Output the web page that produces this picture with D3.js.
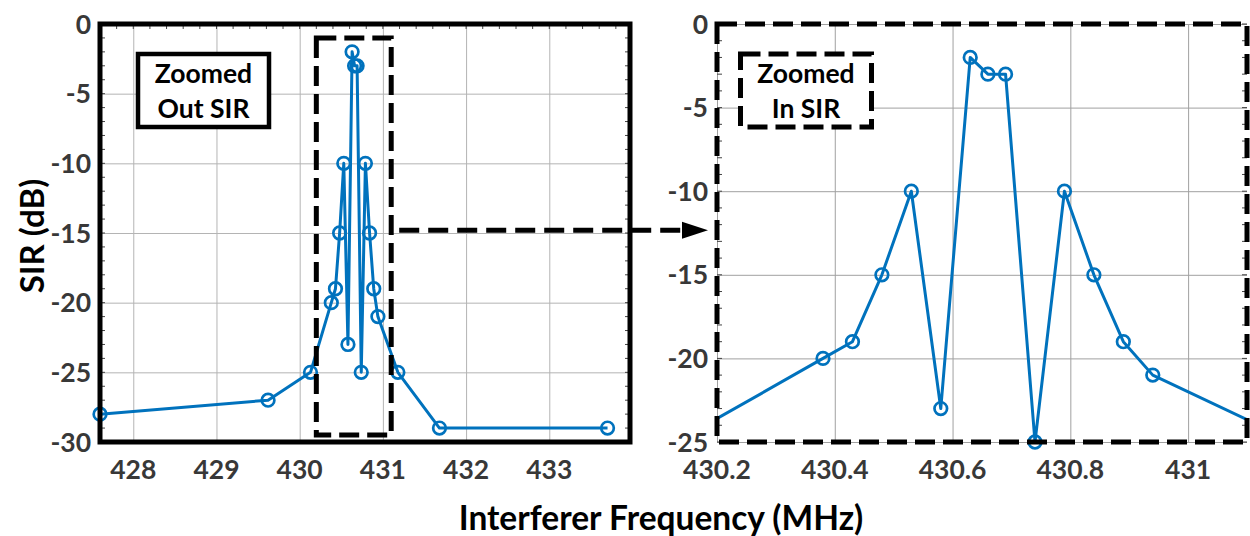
<!DOCTYPE html>
<html>
<head>
<meta charset="utf-8">
<script src="https://cdn.jsdelivr.net/npm/d3@7"></script>
<style>
  html, body { margin: 0; padding: 0; background: #fff; }
  svg { display: block; font-family: Lato, "Open Sans", sans-serif; }
</style>
</head>
<body>
<svg id="chart" width="1250" height="536"></svg>
<script>
// Measured SIR versus interferer frequency
const freqMHz = [427.6, 429.62, 430.13, 430.38, 430.43, 430.48, 430.53, 430.58, 430.63, 430.66,
                 430.69, 430.74, 430.79, 430.84, 430.89, 430.94, 431.18, 431.68, 433.7];
const sirDb   = [-28, -27, -25, -20, -19, -15, -10, -23, -2, -3,
                 -3, -25, -10, -15, -19, -21, -25, -29, -29];

// Axis ranges and tick labels
const outerXDomain = [427.6, 433.97];
const outerYDomain = [-30, 0];
const outerXTicks  = [428, 429, 430, 431, 432, 433];
const outerYTicks  = [0, -5, -10, -15, -20, -25, -30];

const innerXDomain = [430.2, 431.1];
const innerYDomain = [-25, 0];
const innerXTicks  = [430.2, 430.4, 430.6, 430.8, 431];
const innerYTicks  = [0, -5, -10, -15, -20, -25];

// SIR span of the highlighted region in the overview
const zoomRectSir = [-1, -29.5];

const labels = {
  y: "SIR (dB)",
  x: "Interferer Frequency (MHz)",
  outer: ["Zoomed", "Out SIR"],
  inner: ["Zoomed", "In SIR"]
};

const BLUE = "#0072BD";
const svg = d3.select("#chart");
const data = freqMHz.map((f, i) => ({ f, s: sirDb[i] }));

function panel(cfg) {
  const { x0, x1, y0, y1, xDomain, yDomain, xTicks, yTicks, fmt, id, dashed, gridColor } = cfg;
  const x = d3.scaleLinear().domain(xDomain).range([x0, x1]);
  const y = d3.scaleLinear().domain(yDomain).range([y1, y0]);
  const g = svg.append("g");

  svg.append("clipPath").attr("id", id)
    .append("rect").attr("x", x0).attr("y", y0).attr("width", x1 - x0).attr("height", y1 - y0);

  // grid
  g.append("g").attr("transform", `translate(0,${y1})`)
    .call(d3.axisBottom(x).tickValues(xTicks).tickSize(-(y1 - y0)).tickFormat(""))
    .call(a => a.select(".domain").remove())
    .call(a => a.selectAll("line").attr("stroke", gridColor).attr("stroke-width", 1));
  g.append("g").attr("transform", `translate(${x0},0)`)
    .call(d3.axisLeft(y).tickValues(yTicks).tickSize(-(x1 - x0)).tickFormat(""))
    .call(a => a.select(".domain").remove())
    .call(a => a.selectAll("line").attr("stroke", gridColor).attr("stroke-width", 1));

  // minor ticks
  const yMinor = d3.range(yDomain[0], yDomain[1] + 0.5, 1);
  const minor = g.append("g").attr("stroke", "#444").attr("stroke-width", 1);
  minor.selectAll(".ml").data(yMinor).join("line")
    .attr("x1", x0).attr("x2", x0 + 5).attr("y1", d => y(d)).attr("y2", d => y(d));
  minor.selectAll(".mr").data(yMinor).join("line")
    .attr("x1", x1).attr("x2", x1 - 5).attr("y1", d => y(d)).attr("y2", d => y(d));
  if (cfg.xMinorStep) {
    const xMinor = d3.range(Math.ceil(xDomain[0] / cfg.xMinorStep) * cfg.xMinorStep, xDomain[1], cfg.xMinorStep);
    minor.selectAll(".mt").data(xMinor).join("line")
      .attr("x1", d => x(d)).attr("x2", d => x(d)).attr("y1", y0).attr("y2", y0 + 5);
  }

  // data line
  g.append("path").datum(data)
    .attr("clip-path", `url(#${id})`)
    .attr("fill", "none").attr("stroke", BLUE).attr("stroke-width", 3)
    .attr("stroke-linejoin", "round")
    .attr("d", d3.line().x(d => x(d.f)).y(d => y(d.s)));

  // markers
  g.selectAll("circle.pt")
    .data(data.filter(d => d.f >= xDomain[0] - 1e-9 && d.f <= xDomain[1] + 1e-9))
    .join("circle").attr("class", "pt")
    .attr("cx", d => x(d.f)).attr("cy", d => y(d.s)).attr("r", 6.3)
    .attr("fill", "none").attr("stroke", BLUE).attr("stroke-width", 2.7);

  // tick labels
  const tl = g.append("g").attr("font-size", 26.5).attr("font-weight", 700).attr("fill", "#383838");
  tl.selectAll(".xl").data(xTicks).join("text")
    .attr("x", d => x(d)).attr("y", y1 + 37).attr("text-anchor", "middle").text(fmt);
  tl.selectAll(".yl").data(yTicks).join("text")
    .attr("x", x0 - 9).attr("y", d => y(d)).attr("dy", "0.36em").attr("text-anchor", "end").text(d => d);

  // frame
  g.append("rect").attr("x", x0).attr("y", y0).attr("width", x1 - x0).attr("height", y1 - y0)
    .attr("fill", "none").attr("stroke", "#000").attr("stroke-width", 5)
    .attr("stroke-dasharray", dashed ? "20,8" : null);

  return { x, y, g };
}

const outer = panel({
  id: "clipOuter", x0: 100, x1: 630, y0: 24, y1: 442,
  xDomain: outerXDomain, yDomain: outerYDomain, xTicks: outerXTicks, yTicks: outerYTicks,
  fmt: d => d, dashed: false, gridColor: "#b4b4b4", xMinorStep: 0.2
});
const inner = panel({
  id: "clipInner", x0: 717, x1: 1247, y0: 24, y1: 442,
  xDomain: innerXDomain, yDomain: innerYDomain, xTicks: innerXTicks, yTicks: innerYTicks,
  fmt: d => String(+d.toFixed(1)), dashed: true, gridColor: "#a0a0a0"
});

// highlighted region in the overview
const zx0 = outer.x(innerXDomain[0]), zx1 = outer.x(innerXDomain[1]);
const zy0 = outer.y(zoomRectSir[0]), zy1 = outer.y(zoomRectSir[1]);
svg.append("rect").attr("x", zx0).attr("y", zy0).attr("width", zx1 - zx0).attr("height", zy1 - zy0)
  .attr("fill", "none").attr("stroke", "#000").attr("stroke-width", 5).attr("stroke-dasharray", "20,8");

// arrow to the zoomed panel
const ay = outer.y(-14.8);
const ax0 = zx1 + 8, ax1 = 708;
svg.append("line").attr("x1", ax0).attr("x2", ax1 - 24).attr("y1", ay).attr("y2", ay)
  .attr("stroke", "#000").attr("stroke-width", 5).attr("stroke-dasharray", "20,9");
svg.append("path")
  .attr("d", `M${ax1 - 26},${ay - 8.5} L${ax1},${ay} L${ax1 - 26},${ay + 8.5} Z`)
  .attr("fill", "#000");

// caption boxes
function caption(xc, lines, dashed) {
  const w = 131, h = 73, top = 54;
  svg.append("rect").attr("x", xc - w / 2).attr("y", top).attr("width", w).attr("height", h)
    .attr("fill", "#fff").attr("stroke", "#000").attr("stroke-width", dashed ? 5 : 4.5)
    .attr("stroke-dasharray", dashed ? "20,8" : null);
  svg.append("g").attr("font-size", 26.5).attr("font-weight", 700).attr("fill", "#000")
    .selectAll("text").data(lines).join("text")
    .attr("x", xc).attr("y", (d, i) => top + 28.5 + i * 35).attr("text-anchor", "middle").text(d => d);
}
caption(203.5, labels.outer, false);
caption(806, labels.inner, true);

// axis titles
svg.append("text").attr("transform", "translate(32,236) rotate(-90)")
  .attr("text-anchor", "middle").attr("dy", "0.35em")
  .attr("font-size", 33).attr("font-weight", 700).attr("fill", "#000").text(labels.y);
svg.append("text").attr("x", 661).attr("y", 530).attr("text-anchor", "middle")
  .attr("font-size", 33.5).attr("font-weight", 700).attr("fill", "#000").text(labels.x);
</script>
</body>
</html>
